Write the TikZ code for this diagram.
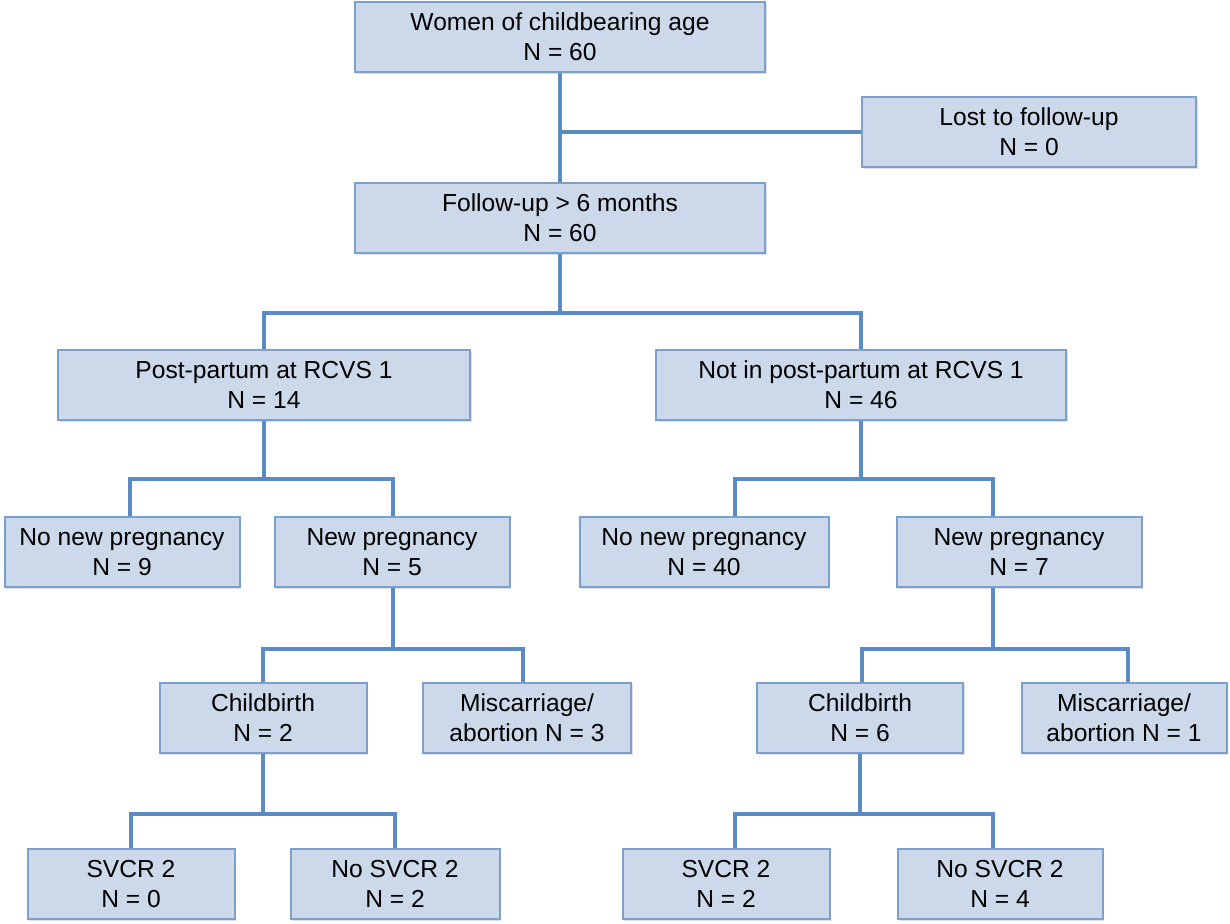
\documentclass[tikz,border=0pt]{standalone}
\usepackage{fontspec}
\setmainfont{Liberation Sans}
\usepackage{tikz}
\usetikzlibrary{shadows}
\definecolor{boxfill}{HTML}{CCD9EA}
\definecolor{boxline}{HTML}{7C9FCB}
\definecolor{linkline}{HTML}{5B8BC3}
\newcommand{\countbox}[2]{#1\\N = #2}
\tikzset{
stage/.style={
  align=center,
  draw=boxline,
  line width=1pt,
  fill=boxfill,
  inner sep=0pt,
  minimum height=35pt,
  drop shadow={shadow xshift=0.8pt, shadow yshift=-0.8pt, opacity=0.25}
  }
}
\tikzstyle{link} = [draw=linkline, line width=1.6pt]
\tikzset{%
    boundingBox/.style={use as bounding box},
    }

\begin{document}
\begin{tikzpicture}[x=0.5pt, y=-0.5pt, font=\fontsize{12.3}{15}\selectfont]
        \path[boundingBox] (0,0) rectangle (1230,923);
		%vertices
		\node (women) at (560, 37) [stage, minimum width=205pt] {\countbox{Women of childbearing age}{60}};
		\node (lost) at (1029, 132) [stage, minimum width=167pt] {\countbox{Lost to follow-up}{0}};
		\node (follow) at (560, 218) [stage, minimum width=205pt] {\countbox{Follow-up > 6 months}{60}};

		\node (post) at (264, 385) [stage, minimum width=206pt] {\countbox{Post-partum at RCVS 1}{14}};
		\node (notpost) at (861, 385) [stage, minimum width=205pt] {\countbox{Not in post-partum at RCVS 1}{46}};

		\node (nonewl) at (122, 552) [stage, minimum width=117.5pt] {\countbox{No new pregnancy}{9}};
		\node (newl) at (392, 552) [stage, minimum width=117.5pt] {\countbox{New pregnancy}{5}};
		\node (nonewr) at (704, 552) [stage, minimum width=124.5pt] {\countbox{No new pregnancy}{40}};
		\node (newr) at (1019, 552) [stage, minimum width=122.5pt] {\countbox{New pregnancy}{7}};

		\node (birthl) at (263, 718) [stage, minimum width=103.5pt] {\countbox{Childbirth}{2}};
		\node (lossl) at (527, 718) [stage, minimum width=104pt] {Miscarriage/\\abortion N = 3};
		\node (birthr) at (860, 718) [stage, minimum width=103pt] {\countbox{Childbirth}{6}};
		\node (lossr) at (1124, 718) [stage, minimum width=102.5pt] {Miscarriage/\\abortion N = 1};

		\node (svcrl) at (131, 884) [stage, minimum width=103.5pt] {\countbox{SVCR 2}{0}};
		\node (nosvcrl) at (395, 884) [stage, minimum width=104.5pt] {\countbox{No SVCR 2}{2}};
		\node (svcrr) at (726, 884) [stage, minimum width=103.5pt] {\countbox{SVCR 2}{2}};
		\node (nosvcrr) at (1000, 884) [stage, minimum width=102.5pt] {\countbox{No SVCR 2}{4}};
		%edges
		\draw[link] (women) -- (follow);
		\draw[link] (lost.west) -- (lost.west -| women.south);

		\draw[link] (follow.south) -- ++(0,59) -| (post.north);
		\draw[link] (follow.south) ++(0,59) -| (notpost.north);

		\draw[link] (post.south) -- ++(0,58) -| ([xshift=4pt]nonewl.north);
		\draw[link] (post.south) ++(0,58) -| ([xshift=0.5pt]newl.north);
		\draw[link] (notpost.south) -- ++(0,58) -| ([xshift=15.5pt]nonewr.north);
		\draw[link] (notpost.south) ++(0,58) -| ([xshift=-13pt]newr.north);

		\draw[link] ([xshift=0.5pt]newl.south) -- ++(0,61) -| (birthl.north);
		\draw[link] ([xshift=0.5pt]newl.south) ++(0,61) -| ([xshift=-2pt]lossl.north);
		\draw[link] ([xshift=-13pt]newr.south) -- ++(0,61) -| ([xshift=1pt]birthr.north);
		\draw[link] ([xshift=-13pt]newr.south) ++(0,61) -| ([xshift=2pt]lossr.north);

		\draw[link] (birthl.south) -- ++(0,60) -| (svcrl.north);
		\draw[link] (birthl.south) ++(0,60) -| (nosvcrl.north);
		\draw[link] (birthr.south) -- ++(0,60) -| ([xshift=4.5pt]svcrr.north);
		\draw[link] (birthr.south) ++(0,60) -| ([xshift=-3.5pt]nosvcrr.north);
\end{tikzpicture}
\end{document}
